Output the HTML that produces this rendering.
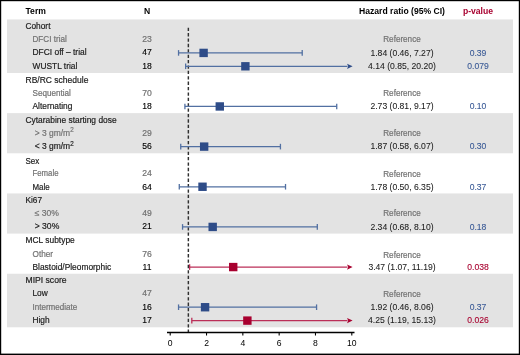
<!DOCTYPE html>
<html><head><meta charset="utf-8"><style>
html,body{margin:0;padding:0;background:#fff;width:520px;height:355px;overflow:hidden}
</style></head><body>
<svg width="520" height="355" viewBox="0 0 520 355" style="display:block;will-change:transform" font-family="Liberation Sans, sans-serif">
<rect x="0" y="0" width="520" height="355" fill="#fff"/>
<rect x="7" y="19.45" width="506" height="53.54" fill="#e3e3e3"/>
<rect x="7" y="113.14" width="506" height="40.15" fill="#e3e3e3"/>
<rect x="7" y="193.45" width="506" height="40.16" fill="#e3e3e3"/>
<rect x="7" y="273.76" width="506" height="53.54" fill="#e3e3e3"/>
<text x="25.50" y="14.10" font-size="8.6" font-weight="bold" fill="#000">Term</text>
<text x="147.00" y="14.10" font-size="8.6" text-anchor="middle" font-weight="bold" fill="#000">N</text>
<text x="402.00" y="14.10" font-size="8.6" text-anchor="middle" font-weight="bold" fill="#000">Hazard ratio (95% CI)</text>
<text x="478.00" y="14.10" font-size="8.6" text-anchor="middle" font-weight="bold" fill="#a8002f">p-value</text>
<line x1="188.36" y1="27.7" x2="188.36" y2="332.5" stroke="#303030" stroke-width="1.45" stroke-dasharray="3.3,2.09"/>
<text x="25.50" y="28.59" font-size="8.6" fill="#1a1a1a" stroke="#1a1a1a" stroke-width="0.18" transform="translate(25.50,0) scale(0.969,1) translate(-25.50,0)">Cohort</text>
<text x="32.50" y="41.98" font-size="8.6" fill="#727272" stroke="#727272" stroke-width="0.2" transform="translate(32.50,0) scale(0.944,1) translate(-32.50,0)">DFCI trial</text>
<text x="147.00" y="41.98" font-size="8.6" text-anchor="middle" fill="#727272" stroke="#727272" stroke-width="0.2">23</text>
<text x="402.00" y="42.28" font-size="8.6" text-anchor="middle" fill="#727272" stroke="#727272" stroke-width="0.2" transform="translate(402.00,0) scale(0.945,1) translate(-402.00,0)">Reference</text>
<text x="32.50" y="55.36" font-size="8.6" fill="#1a1a1a" stroke="#1a1a1a" stroke-width="0.18" transform="translate(32.50,0) scale(0.980,1) translate(-32.50,0)">DFCI off – trial</text>
<text x="147.00" y="55.36" font-size="8.6" text-anchor="middle" fill="#000" stroke="#000" stroke-width="0.12">47</text>
<text x="402.00" y="55.66" font-size="8.6" text-anchor="middle" fill="#1a1a1a" stroke="#1a1a1a" stroke-width="0.06">1.84 (0.46, 7.27)</text>
<text x="478.00" y="55.66" font-size="8.6" text-anchor="middle" fill="#3a5a96" stroke="#3a5a96" stroke-width="0.1">0.39</text>
<line x1="178.55" y1="52.91" x2="302.22" y2="52.91" stroke="#5270a2" stroke-width="1.25"/>
<line x1="178.55" y1="50.11" x2="178.55" y2="55.71" stroke="#5270a2" stroke-width="1.3"/>
<line x1="302.22" y1="50.11" x2="302.22" y2="55.71" stroke="#5270a2" stroke-width="1.3"/>
<rect x="199.41" y="48.71" width="8.4" height="8.4" fill="#2e4c88"/>
<text x="32.50" y="68.75" font-size="8.6" fill="#1a1a1a" stroke="#1a1a1a" stroke-width="0.18" transform="translate(32.50,0) scale(0.976,1) translate(-32.50,0)">WUSTL trial</text>
<text x="147.00" y="68.75" font-size="8.6" text-anchor="middle" fill="#000" stroke="#000" stroke-width="0.12">18</text>
<text x="402.00" y="69.05" font-size="8.6" text-anchor="middle" fill="#1a1a1a" stroke="#1a1a1a" stroke-width="0.06">4.14 (0.85, 20.20)</text>
<text x="478.00" y="69.05" font-size="8.6" text-anchor="middle" fill="#3a5a96" stroke="#3a5a96" stroke-width="0.1">0.079</text>
<line x1="185.64" y1="66.30" x2="347.50" y2="66.30" stroke="#5270a2" stroke-width="1.25"/>
<line x1="185.64" y1="63.50" x2="185.64" y2="69.10" stroke="#5270a2" stroke-width="1.3"/>
<path d="M352.6,66.30 L347.00,63.70 L348.20,66.30 L347.00,68.90 Z" fill="#2e4c88"/>
<rect x="241.18" y="62.10" width="8.4" height="8.4" fill="#2e4c88"/>
<text x="25.50" y="83.13" font-size="8.6" fill="#1a1a1a" stroke="#1a1a1a" stroke-width="0.18" transform="translate(25.50,0) scale(0.992,1) translate(-25.50,0)">RB/RC schedule</text>
<text x="32.50" y="95.52" font-size="8.6" fill="#727272" stroke="#727272" stroke-width="0.2" transform="translate(32.50,0) scale(0.945,1) translate(-32.50,0)">Sequential</text>
<text x="147.00" y="95.52" font-size="8.6" text-anchor="middle" fill="#727272" stroke="#727272" stroke-width="0.2">70</text>
<text x="402.00" y="95.82" font-size="8.6" text-anchor="middle" fill="#727272" stroke="#727272" stroke-width="0.2" transform="translate(402.00,0) scale(0.945,1) translate(-402.00,0)">Reference</text>
<text x="32.50" y="108.90" font-size="8.6" fill="#1a1a1a" stroke="#1a1a1a" stroke-width="0.18" transform="translate(32.50,0) scale(0.971,1) translate(-32.50,0)">Alternating</text>
<text x="147.00" y="108.90" font-size="8.6" text-anchor="middle" fill="#000" stroke="#000" stroke-width="0.12">18</text>
<text x="402.00" y="109.20" font-size="8.6" text-anchor="middle" fill="#1a1a1a" stroke="#1a1a1a" stroke-width="0.06">2.73 (0.81, 9.17)</text>
<text x="478.00" y="109.20" font-size="8.6" text-anchor="middle" fill="#3a5a96" stroke="#3a5a96" stroke-width="0.1">0.10</text>
<line x1="184.91" y1="106.45" x2="336.73" y2="106.45" stroke="#5270a2" stroke-width="1.25"/>
<line x1="184.91" y1="103.65" x2="184.91" y2="109.25" stroke="#5270a2" stroke-width="1.3"/>
<line x1="336.73" y1="103.65" x2="336.73" y2="109.25" stroke="#5270a2" stroke-width="1.3"/>
<rect x="215.58" y="102.25" width="8.4" height="8.4" fill="#2e4c88"/>
<text x="25.50" y="122.79" font-size="8.6" fill="#1a1a1a" stroke="#1a1a1a" stroke-width="0.18" transform="translate(25.50,0) scale(0.978,1) translate(-25.50,0)">Cytarabine starting dose</text>
<text x="34.70" y="135.67" font-size="8.6" fill="#727272" stroke="#727272" stroke-width="0.2" transform="translate(34.70,0) scale(0.985,1) translate(-34.70,0)">&gt; 3 gm/m<tspan font-size="6.36" dy="-3.2">2</tspan></text>
<text x="147.00" y="135.67" font-size="8.6" text-anchor="middle" fill="#727272" stroke="#727272" stroke-width="0.2">29</text>
<text x="402.00" y="135.97" font-size="8.6" text-anchor="middle" fill="#727272" stroke="#727272" stroke-width="0.2" transform="translate(402.00,0) scale(0.945,1) translate(-402.00,0)">Reference</text>
<text x="34.70" y="149.06" font-size="8.6" fill="#1a1a1a" stroke="#1a1a1a" stroke-width="0.18" transform="translate(34.70,0) scale(0.985,1) translate(-34.70,0)">&lt; 3 gm/m<tspan font-size="6.36" dy="-3.2">2</tspan></text>
<text x="147.00" y="149.06" font-size="8.6" text-anchor="middle" fill="#000" stroke="#000" stroke-width="0.12">56</text>
<text x="402.00" y="149.36" font-size="8.6" text-anchor="middle" fill="#1a1a1a" stroke="#1a1a1a" stroke-width="0.06">1.87 (0.58, 6.07)</text>
<text x="478.00" y="149.36" font-size="8.6" text-anchor="middle" fill="#3a5a96" stroke="#3a5a96" stroke-width="0.1">0.30</text>
<line x1="180.73" y1="146.61" x2="280.43" y2="146.61" stroke="#5270a2" stroke-width="1.25"/>
<line x1="180.73" y1="143.81" x2="180.73" y2="149.41" stroke="#5270a2" stroke-width="1.3"/>
<line x1="280.43" y1="143.81" x2="280.43" y2="149.41" stroke="#5270a2" stroke-width="1.3"/>
<rect x="199.96" y="142.41" width="8.4" height="8.4" fill="#2e4c88"/>
<text x="25.50" y="163.74" font-size="8.6" fill="#1a1a1a" stroke="#1a1a1a" stroke-width="0.18" transform="translate(25.50,0) scale(0.930,1) translate(-25.50,0)">Sex</text>
<text x="32.50" y="176.43" font-size="8.6" fill="#727272" stroke="#727272" stroke-width="0.2" transform="translate(32.50,0) scale(0.908,1) translate(-32.50,0)">Female</text>
<text x="147.00" y="176.43" font-size="8.6" text-anchor="middle" fill="#727272" stroke="#727272" stroke-width="0.2">24</text>
<text x="402.00" y="176.73" font-size="8.6" text-anchor="middle" fill="#727272" stroke="#727272" stroke-width="0.2" transform="translate(402.00,0) scale(0.945,1) translate(-402.00,0)">Reference</text>
<text x="32.50" y="189.71" font-size="8.6" fill="#1a1a1a" stroke="#1a1a1a" stroke-width="0.18" transform="translate(32.50,0) scale(0.921,1) translate(-32.50,0)">Male</text>
<text x="147.00" y="189.71" font-size="8.6" text-anchor="middle" fill="#000" stroke="#000" stroke-width="0.12">64</text>
<text x="402.00" y="190.01" font-size="8.6" text-anchor="middle" fill="#1a1a1a" stroke="#1a1a1a" stroke-width="0.06">1.78 (0.50, 6.35)</text>
<text x="478.00" y="190.01" font-size="8.6" text-anchor="middle" fill="#3a5a96" stroke="#3a5a96" stroke-width="0.1">0.37</text>
<line x1="179.28" y1="186.76" x2="285.52" y2="186.76" stroke="#5270a2" stroke-width="1.25"/>
<line x1="179.28" y1="183.96" x2="179.28" y2="189.56" stroke="#5270a2" stroke-width="1.3"/>
<line x1="285.52" y1="183.96" x2="285.52" y2="189.56" stroke="#5270a2" stroke-width="1.3"/>
<rect x="198.32" y="182.56" width="8.4" height="8.4" fill="#2e4c88"/>
<text x="25.50" y="202.60" font-size="8.6" fill="#1a1a1a" stroke="#1a1a1a" stroke-width="0.18" transform="translate(25.50,0) scale(0.964,1) translate(-25.50,0)">Ki67</text>
<text x="34.70" y="215.98" font-size="8.6" fill="#727272" stroke="#727272" stroke-width="0.2">≤ 30%</text>
<text x="147.00" y="215.98" font-size="8.6" text-anchor="middle" fill="#727272" stroke="#727272" stroke-width="0.2">49</text>
<text x="402.00" y="216.28" font-size="8.6" text-anchor="middle" fill="#727272" stroke="#727272" stroke-width="0.2" transform="translate(402.00,0) scale(0.945,1) translate(-402.00,0)">Reference</text>
<text x="34.70" y="229.37" font-size="8.6" fill="#1a1a1a" stroke="#1a1a1a" stroke-width="0.18">&gt; 30%</text>
<text x="147.00" y="229.37" font-size="8.6" text-anchor="middle" fill="#000" stroke="#000" stroke-width="0.12">21</text>
<text x="402.00" y="229.67" font-size="8.6" text-anchor="middle" fill="#1a1a1a" stroke="#1a1a1a" stroke-width="0.06">2.34 (0.68, 8.10)</text>
<text x="478.00" y="229.67" font-size="8.6" text-anchor="middle" fill="#3a5a96" stroke="#3a5a96" stroke-width="0.1">0.18</text>
<line x1="182.55" y1="226.92" x2="317.30" y2="226.92" stroke="#5270a2" stroke-width="1.25"/>
<line x1="182.55" y1="224.12" x2="182.55" y2="229.72" stroke="#5270a2" stroke-width="1.3"/>
<line x1="317.30" y1="224.12" x2="317.30" y2="229.72" stroke="#5270a2" stroke-width="1.3"/>
<rect x="208.49" y="222.72" width="8.4" height="8.4" fill="#2e4c88"/>
<text x="25.50" y="242.75" font-size="8.6" fill="#1a1a1a" stroke="#1a1a1a" stroke-width="0.18" transform="translate(25.50,0) scale(0.980,1) translate(-25.50,0)">MCL subtype</text>
<text x="32.50" y="257.24" font-size="8.6" fill="#727272" stroke="#727272" stroke-width="0.2" transform="translate(32.50,0) scale(0.957,1) translate(-32.50,0)">Other</text>
<text x="147.00" y="257.24" font-size="8.6" text-anchor="middle" fill="#727272" stroke="#727272" stroke-width="0.2">76</text>
<text x="402.00" y="257.54" font-size="8.6" text-anchor="middle" fill="#727272" stroke="#727272" stroke-width="0.2" transform="translate(402.00,0) scale(0.945,1) translate(-402.00,0)">Reference</text>
<text x="32.50" y="269.52" font-size="8.6" fill="#1a1a1a" stroke="#1a1a1a" stroke-width="0.18" transform="translate(32.50,0) scale(0.976,1) translate(-32.50,0)">Blastoid/Pleomorphic</text>
<text x="147.00" y="269.52" font-size="8.6" text-anchor="middle" fill="#000" stroke="#000" stroke-width="0.12">11</text>
<text x="402.00" y="269.82" font-size="8.6" text-anchor="middle" fill="#1a1a1a" stroke="#1a1a1a" stroke-width="0.06">3.47 (1.07, 11.19)</text>
<text x="478.00" y="269.82" font-size="8.6" text-anchor="middle" fill="#a8002f" stroke="#a8002f" stroke-width="0.1">0.038</text>
<line x1="189.63" y1="267.07" x2="347.50" y2="267.07" stroke="#bb2f58" stroke-width="1.25"/>
<line x1="189.63" y1="264.27" x2="189.63" y2="269.87" stroke="#bb2f58" stroke-width="1.3"/>
<path d="M352.6,267.07 L347.00,264.47 L348.20,267.07 L347.00,269.67 Z" fill="#a8002f"/>
<rect x="229.02" y="262.87" width="8.4" height="8.4" fill="#a8002f"/>
<text x="25.50" y="282.91" font-size="8.6" fill="#1a1a1a" stroke="#1a1a1a" stroke-width="0.18">MIPI score</text>
<text x="32.50" y="296.29" font-size="8.6" fill="#1a1a1a" stroke="#1a1a1a" stroke-width="0.18" transform="translate(32.50,0) scale(0.967,1) translate(-32.50,0)">Low</text>
<text x="147.00" y="296.29" font-size="8.6" text-anchor="middle" fill="#727272" stroke="#727272" stroke-width="0.2">47</text>
<text x="402.00" y="296.59" font-size="8.6" text-anchor="middle" fill="#727272" stroke="#727272" stroke-width="0.2" transform="translate(402.00,0) scale(0.945,1) translate(-402.00,0)">Reference</text>
<text x="32.50" y="309.68" font-size="8.6" fill="#727272" stroke="#727272" stroke-width="0.2" transform="translate(32.50,0) scale(0.938,1) translate(-32.50,0)">Intermediate</text>
<text x="147.00" y="309.68" font-size="8.6" text-anchor="middle" fill="#000" stroke="#000" stroke-width="0.12">16</text>
<text x="402.00" y="309.98" font-size="8.6" text-anchor="middle" fill="#1a1a1a" stroke="#1a1a1a" stroke-width="0.06">1.92 (0.46, 8.06)</text>
<text x="478.00" y="309.98" font-size="8.6" text-anchor="middle" fill="#3a5a96" stroke="#3a5a96" stroke-width="0.1">0.37</text>
<line x1="178.55" y1="307.23" x2="316.57" y2="307.23" stroke="#5270a2" stroke-width="1.25"/>
<line x1="178.55" y1="304.43" x2="178.55" y2="310.03" stroke="#5270a2" stroke-width="1.3"/>
<line x1="316.57" y1="304.43" x2="316.57" y2="310.03" stroke="#5270a2" stroke-width="1.3"/>
<rect x="200.87" y="303.03" width="8.4" height="8.4" fill="#2e4c88"/>
<text x="32.50" y="323.06" font-size="8.6" fill="#1a1a1a" stroke="#1a1a1a" stroke-width="0.18" transform="translate(32.50,0) scale(0.970,1) translate(-32.50,0)">High</text>
<text x="147.00" y="323.06" font-size="8.6" text-anchor="middle" fill="#000" stroke="#000" stroke-width="0.12">17</text>
<text x="402.00" y="323.36" font-size="8.6" text-anchor="middle" fill="#1a1a1a" stroke="#1a1a1a" stroke-width="0.06">4.25 (1.19, 15.13)</text>
<text x="478.00" y="323.36" font-size="8.6" text-anchor="middle" fill="#a8002f" stroke="#a8002f" stroke-width="0.1">0.026</text>
<line x1="191.81" y1="320.61" x2="347.50" y2="320.61" stroke="#bb2f58" stroke-width="1.25"/>
<line x1="191.81" y1="317.81" x2="191.81" y2="323.41" stroke="#bb2f58" stroke-width="1.3"/>
<path d="M352.6,320.61 L347.00,318.01 L348.20,320.61 L347.00,323.21 Z" fill="#a8002f"/>
<rect x="243.18" y="316.41" width="8.4" height="8.4" fill="#a8002f"/>
<line x1="167" y1="332.5" x2="354.5" y2="332.5" stroke="#000" stroke-width="1.3"/>
<line x1="170.20" y1="332.5" x2="170.20" y2="335.5" stroke="#000" stroke-width="1.1"/>
<text x="170.20" y="345.90" font-size="8.6" text-anchor="middle" fill="#000">0</text>
<line x1="206.52" y1="332.5" x2="206.52" y2="335.5" stroke="#000" stroke-width="1.1"/>
<text x="206.52" y="345.90" font-size="8.6" text-anchor="middle" fill="#000">2</text>
<line x1="242.84" y1="332.5" x2="242.84" y2="335.5" stroke="#000" stroke-width="1.1"/>
<text x="242.84" y="345.90" font-size="8.6" text-anchor="middle" fill="#000">4</text>
<line x1="279.16" y1="332.5" x2="279.16" y2="335.5" stroke="#000" stroke-width="1.1"/>
<text x="279.16" y="345.90" font-size="8.6" text-anchor="middle" fill="#000">6</text>
<line x1="315.48" y1="332.5" x2="315.48" y2="335.5" stroke="#000" stroke-width="1.1"/>
<text x="315.48" y="345.90" font-size="8.6" text-anchor="middle" fill="#000">8</text>
<line x1="351.80" y1="332.5" x2="351.80" y2="335.5" stroke="#000" stroke-width="1.1"/>
<text x="351.80" y="345.90" font-size="8.6" text-anchor="middle" fill="#000">10</text>
<rect x="0" y="0" width="520" height="1.2" fill="#000"/>
<rect x="0" y="0" width="1.2" height="355" fill="#000"/>
<rect x="518.8" y="0" width="1.2" height="355" fill="#000"/>
<rect x="0" y="353.6" width="520" height="1.4" fill="#000"/>
</svg>
</body></html>
